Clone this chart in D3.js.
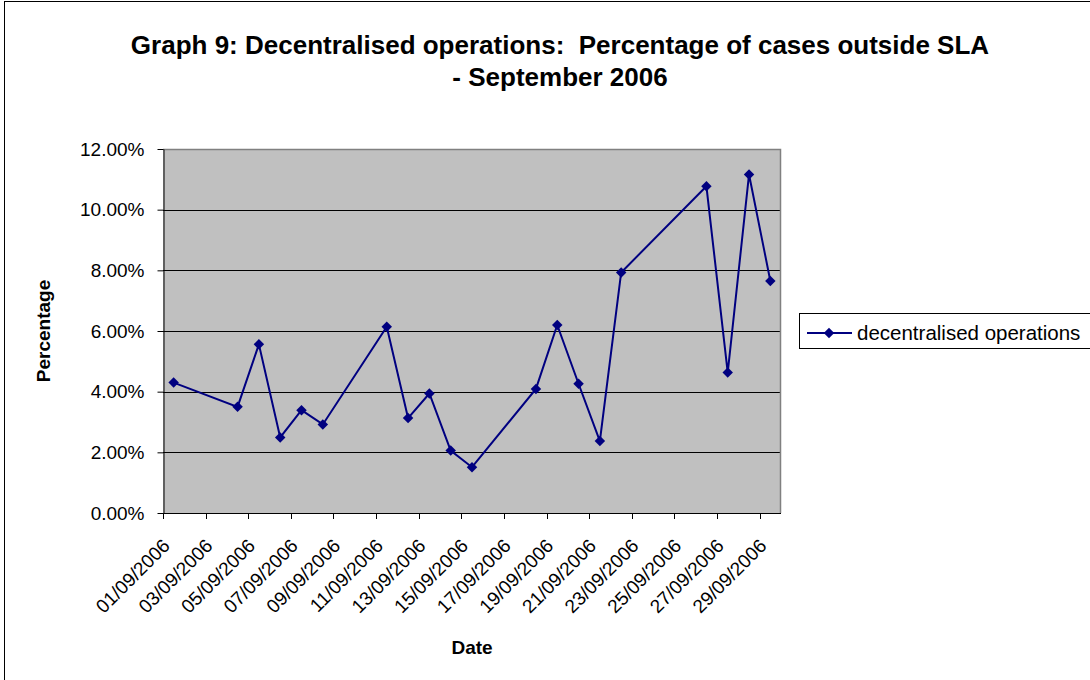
<!DOCTYPE html>
<html>
<head>
<meta charset="utf-8">
<script src="https://cdn.jsdelivr.net/npm/d3@7"></script>
<style>
  html, body { margin: 0; padding: 0; background: #fff; }
  svg { display: block; font-family: "Liberation Sans", Arial, sans-serif; }
</style>
</head>
<body>
<svg id="chart" width="1090" height="680"></svg>
<script>
// Days of September 2006 shown on the category axis
const days = d3.range(1, 30).map(d => String(d).padStart(2, "0") + "/09/2006");
// Every second day carries a tick label
const tickLabels = days.filter((d, i) => i % 2 === 0);

// Recorded days and the share of cases outside SLA on each
const recordedDays = ["01/09/2006", "04/09/2006", "05/09/2006", "06/09/2006", "07/09/2006",
  "08/09/2006", "11/09/2006", "12/09/2006", "13/09/2006", "14/09/2006", "15/09/2006",
  "18/09/2006", "19/09/2006", "20/09/2006", "21/09/2006", "22/09/2006", "26/09/2006",
  "27/09/2006", "28/09/2006", "29/09/2006"];
const percentOutsideSLA = [0.0430, 0.0350, 0.0556, 0.0249, 0.0339, 0.0292, 0.0614, 0.0313,
  0.0394, 0.0206, 0.0151, 0.0409, 0.0620, 0.0426, 0.0237, 0.0793, 0.1077, 0.0463,
  0.1116, 0.0765];
const yTicks = [0, 0.02, 0.04, 0.06, 0.08, 0.10, 0.12];

const seriesName = "decentralised operations";
const titleLines = ["Graph 9: Decentralised operations:  Percentage of cases outside SLA",
  "- September 2006"];

const svg = d3.select("#chart");
const plot = { left: 163, right: 781, top: 149, bottom: 513 };
const navy = "#000080";

// outer chart frame
svg.append("rect")
  .attr("x", 4.5).attr("y", 1.5).attr("width", 1100).attr("height", 700)
  .attr("fill", "#fff").attr("stroke", "#000").attr("stroke-width", 1);

const x = d3.scaleBand().domain(days).range([plot.left, plot.right]);
const y = d3.scaleLinear().domain([0, 0.12]).range([plot.bottom, plot.top]);

// plot area background
svg.append("rect")
  .attr("x", plot.left).attr("y", plot.top)
  .attr("width", plot.right - plot.left).attr("height", plot.bottom - plot.top)
  .attr("fill", "#c0c0c0");

// horizontal gridlines
svg.append("g").selectAll("line")
  .data(yTicks.filter(v => v > 0 && v < 0.12))
  .join("line")
  .attr("x1", plot.left).attr("x2", plot.right)
  .attr("y1", d => Math.round(y(d)) + 0.5).attr("y2", d => Math.round(y(d)) + 0.5)
  .attr("stroke", "#000").attr("stroke-width", 1);

// grey border on top and right
svg.append("path")
  .attr("d", `M${plot.left},${plot.top + 0.5}H${plot.right - 0.5}V${plot.bottom}`)
  .attr("fill", "none").attr("stroke", "#808080").attr("stroke-width", 1.5);

// y axis
const yAxis = svg.append("g")
  .attr("transform", `translate(${plot.left + 0.5},0)`)
  .call(d3.axisLeft(y).tickValues(yTicks).tickFormat(d3.format(".2%"))
    .tickSize(6).tickPadding(13).tickSizeOuter(0));
yAxis.select(".domain").attr("stroke", "#000");
yAxis.selectAll("text").attr("font-size", 19).attr("fill", "#000")
  .attr("font-family", "Liberation Sans, Arial, sans-serif");

// x axis baseline and ticks at category boundaries
const xg = svg.append("g");
xg.append("line")
  .attr("x1", plot.left).attr("x2", plot.right)
  .attr("y1", plot.bottom + 0.5).attr("y2", plot.bottom + 0.5)
  .attr("stroke", "#000");
xg.selectAll("line.tick")
  .data(tickLabels)
  .join("line").attr("class", "tick")
  .attr("x1", d => Math.round(x(d)) + 0.5).attr("x2", d => Math.round(x(d)) + 0.5)
  .attr("y1", plot.bottom).attr("y2", plot.bottom + 6)
  .attr("stroke", "#000");
xg.selectAll("text")
  .data(tickLabels)
  .join("text")
  .attr("transform", d => `translate(${x(d) + 8},${plot.bottom + 34}) rotate(-45)`)
  .attr("text-anchor", "end")
  .attr("font-size", 19)
  .text(d => d);

// series line and diamond markers
const pts = recordedDays.map((d, i) => [x(d) + x.bandwidth() / 2, y(percentOutsideSLA[i])]);
svg.append("path")
  .attr("d", d3.line()(pts))
  .attr("fill", "none").attr("stroke", navy).attr("stroke-width", 2);
const diamond = d3.symbol().type(d3.symbolDiamond2).size(70);
svg.append("g").selectAll("path")
  .data(pts)
  .join("path")
  .attr("transform", d => `translate(${d[0]},${d[1]})`)
  .attr("d", diamond)
  .attr("fill", navy);

// titles
svg.append("g").selectAll("text")
  .data(titleLines)
  .join("text")
  .attr("x", 560).attr("y", (d, i) => 54 + i * 32)
  .attr("text-anchor", "middle")
  .attr("font-size", 26).attr("font-weight", "bold")
  .style("white-space", "pre")
  .text(d => d);

svg.append("text")
  .attr("transform", `translate(50,331) rotate(-90)`)
  .attr("text-anchor", "middle")
  .attr("font-size", 19).attr("font-weight", "bold")
  .text("Percentage");

svg.append("text")
  .attr("x", 472).attr("y", 654)
  .attr("text-anchor", "middle")
  .attr("font-size", 19).attr("font-weight", "bold")
  .text("Date");

// legend
const lg = svg.append("g");
lg.append("rect")
  .attr("x", 799.5).attr("y", 313.5).attr("width", 300).attr("height", 35)
  .attr("fill", "#fff").attr("stroke", "#000");
lg.append("line")
  .attr("x1", 807).attr("x2", 852).attr("y1", 333).attr("y2", 333)
  .attr("stroke", navy).attr("stroke-width", 2);
lg.append("path")
  .attr("transform", "translate(829,333)")
  .attr("d", diamond).attr("fill", navy);
lg.append("text")
  .attr("x", 857).attr("y", 340)
  .attr("font-size", 20.5)
  .text(seriesName);
</script>
</body>
</html>
